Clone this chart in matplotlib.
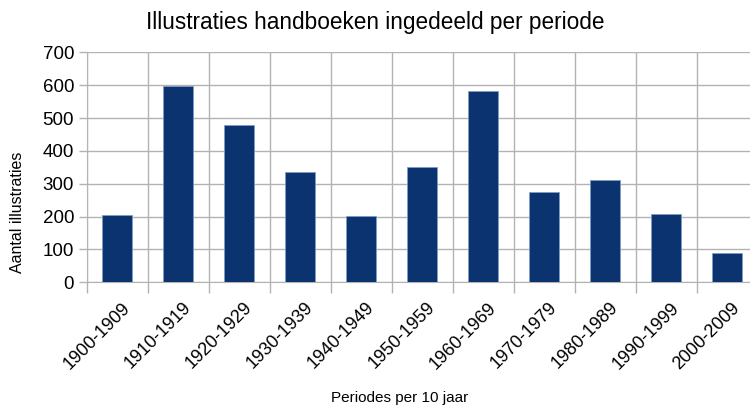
import numpy as np
import matplotlib.pyplot as plt
import matplotlib.transforms as mtransforms

plt.rcParams['font.family'] = ['Liberation Sans', 'DejaVu Sans']

periodes = ["1900-1909", "1910-1919", "1920-1929", "1930-1939", "1940-1949",
            "1950-1959", "1960-1969", "1970-1979", "1980-1989", "1990-1999",
            "2000-2009"]
aantal = [205, 597, 479, 337, 202, 351, 583, 276, 310, 207, 88]
yticks = [0, 100, 200, 300, 400, 500, 600, 700]

fig = plt.figure(figsize=(7.5, 4.08), dpi=100)
ax = fig.add_axes([86.7/750, 1-282.3/408, 671/750, 230/408])

x = np.arange(len(periodes))
ax.bar(x, aantal, width=0.5, color='#0a3370', edgecolor='#7f9cc4',
       linewidth=0.6, zorder=3)

ax.set_xlim(-0.5, len(periodes)-0.5)
ax.set_ylim(0, 700)
ax.set_yticks(yticks)
ax.set_yticklabels([str(v) for v in yticks], fontsize=13.5)

# grid lines at category borders
ax.set_xticks(np.arange(-0.5, len(periodes)), minor=False)
ax.set_xticklabels([])
ax.set_xticks(x, minor=True)
ax.set_xticklabels(periodes, minor=True, rotation=45, ha='right', va='center',
                   rotation_mode='anchor', fontsize=13)
ax.tick_params(axis='x', which='minor', length=0, pad=16.5)
ax.tick_params(axis='x', which='major', length=8, color='#b3b3b3', width=1)
ax.tick_params(axis='y', length=6, color='#b3b3b3', width=1, pad=3)
ax.grid(True, which='major', color='#b3b3b3', linewidth=1, zorder=0)

# shift rotated labels a bit to the right
shift = mtransforms.ScaledTranslation(10/100, 0, fig.dpi_scale_trans)
for lbl in ax.get_xticklabels(minor=True):
    lbl.set_transform(lbl.get_transform() + shift)

for s in ['top', 'right']:
    ax.spines[s].set_visible(False)
ax.spines['left'].set_color('#b3b3b3')
ax.spines['bottom'].set_color('#b3b3b3')

fig.text(375/750, 1-22/408, "Illustraties handboeken ingedeeld per periode",
         ha='center', va='center', fontsize=16.3)
fig.text(400/750, 1-398/408, "Periodes per 10 jaar", ha='center', va='center',
         fontsize=11)
fig.text(18/750, 1-212/408, "Aantal illustraties", ha='center', va='center',
         rotation=90, fontsize=11.5)

fig.savefig("out.png", dpi=100)
